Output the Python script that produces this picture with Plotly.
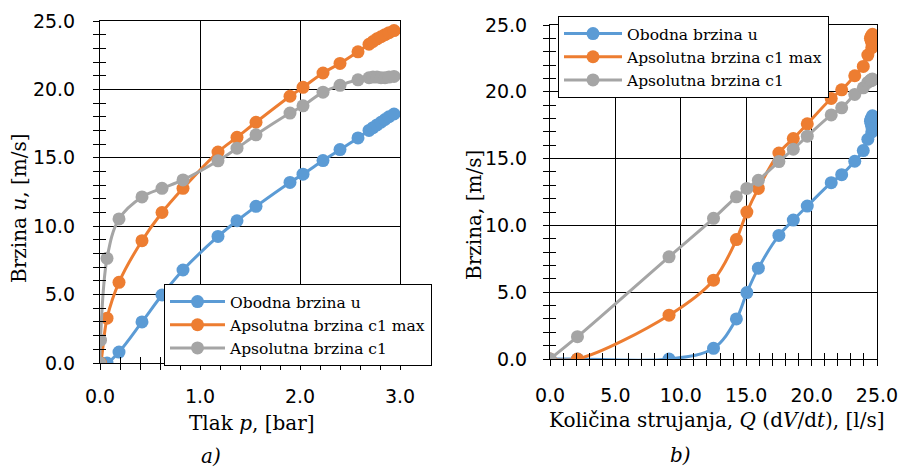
import plotly.graph_objects as go

# ---- data ----
p_bar = [0.0, 0.005, 0.07, 0.19, 0.42, 0.62, 0.83, 1.18, 1.37, 1.56, 1.90, 2.03, 2.23, 2.40, 2.58,
         2.69, 2.73, 2.77, 2.81, 2.85, 2.89, 2.94]
q_ls = [0.0, 2.1, 9.1, 12.5, 14.25, 15.05, 15.93, 17.5, 18.6, 19.67, 21.5, 22.3, 23.3, 23.95, 24.3,
        24.6, 24.65, 24.6, 24.55, 24.5, 24.55, 24.65]
u_obodna = [0, 0, 0, 0.8, 3.0, 4.97, 6.8, 9.25, 10.4, 11.45, 13.2, 13.8, 14.8, 15.6, 16.45,
            17.0, 17.2, 17.4, 17.6, 17.8, 18.0, 18.2]
c1_max = [0, 0, 3.28, 5.9, 8.94, 11.0, 12.77, 15.42, 16.5, 17.6, 19.5, 20.15, 21.2, 21.9, 22.75,
          23.3, 23.5, 23.7, 23.85, 24.0, 24.15, 24.3]
c1 = [0, 1.67, 7.65, 10.53, 12.14, 12.77, 13.38, 14.78, 15.7, 16.68, 18.27, 18.8, 19.8, 20.3, 20.7,
      20.85, 20.9, 20.9, 20.85, 20.85, 20.9, 20.95]

series_names = ["Obodna brzina u", "Apsolutna brzina c1 max", "Apsolutna brzina c1"]
series_vals = [u_obodna, c1_max, c1]
colors = ["#5B9BD5", "#ED7D31", "#A5A5A5"]

W, H = 901, 468
TICK_FONT = dict(family="DejaVu Sans", size=19, color="black")
TITLE_FONT = dict(family="DejaVu Serif", size=20, color="black")
LEG_FONT = dict(family="DejaVu Serif", size=15.5, color="black")

fig = go.Figure()

for name, vals, col in zip(series_names, series_vals, colors):
    fig.add_trace(go.Scatter(x=p_bar, y=vals, name=name, mode="lines+markers",
                             line=dict(color=col, width=3, shape="spline"),
                             marker=dict(color=col, size=13),
                             xaxis="x", yaxis="y", legend="legend"))
for name, vals, col in zip(series_names, series_vals, colors):
    fig.add_trace(go.Scatter(x=q_ls, y=vals, name=name, mode="lines+markers",
                             line=dict(color=col, width=3, shape="spline"),
                             marker=dict(color=col, size=13),
                             xaxis="x2", yaxis="y2", legend="legend2"))
# empty traces so the overlay axes (inner half of the crossing ticks + frame) get drawn
fig.add_trace(go.Scatter(x=[], y=[], xaxis="x3", yaxis="y3", showlegend=False, hoverinfo="skip"))
fig.add_trace(go.Scatter(x=[], y=[], xaxis="x4", yaxis="y4", showlegend=False, hoverinfo="skip"))

xd1 = [100 / W, 400 / W]
yd1 = [1 - 363 / H, 1 - 21 / H]
xd2 = [550 / W, 877 / W]
yd2 = [1 - 359 / H, 1 - 25 / H]


def main_axis(rng, dtick, mdtick, domain, anchor, standoff):
    return dict(range=rng, domain=domain, anchor=anchor, dtick=dtick, tick0=0,
                tickformat=".1f", showgrid=True, gridcolor="black", gridwidth=1,
                zeroline=False, showline=True, linecolor="black", linewidth=1,
                ticks="outside", ticklen=6, tickcolor="black", tickwidth=1,
                minor=dict(ticks="outside", dtick=mdtick, tick0=0, ticklen=6,
                           tickcolor="black", tickwidth=1, showgrid=False),
                ticklabelstandoff=standoff, automargin=False,
                tickfont=TICK_FONT, fixedrange=True)


def overlay_axis(rng, mdtick, domain, over, anchor, side):
    return dict(range=rng, domain=domain, overlaying=over, anchor=anchor, side=side,
                dtick=mdtick, tick0=0, showticklabels=False, showgrid=False,
                zeroline=False, showline=True, linecolor="black", linewidth=1, mirror=True,
                automargin=False,
                ticks="inside", ticklen=6, tickcolor="black", tickwidth=1, fixedrange=True)


fig.update_layout(
    width=W, height=H, margin=dict(l=0, r=0, t=0, b=0, autoexpand=False),
    paper_bgcolor="white", plot_bgcolor="white",
    xaxis=main_axis([0, 3], 1, 0.2, xd1, "y", 10),
    yaxis=main_axis([0, 25], 5, 1, yd1, "x", 14),
    xaxis2=main_axis([0, 25], 5, 1, xd2, "y2", 13),
    yaxis2=main_axis([0, 25], 5, 1, yd2, "x2", 12),
    xaxis3=overlay_axis([0, 3], 0.2, xd1, "x", "y3", "bottom"),
    yaxis3=overlay_axis([0, 25], 1, yd1, "y", "x3", "left"),
    xaxis4=overlay_axis([0, 25], 1, xd2, "x2", "y4", "bottom"),
    yaxis4=overlay_axis([0, 25], 1, yd2, "y2", "x4", "left"),
    legend=dict(x=164 / W, y=1 - 284 / H, xanchor="left", yanchor="top",
                bgcolor="white", bordercolor="black", borderwidth=1,
                font=LEG_FONT, itemwidth=55, tracegroupgap=0),
    legend2=dict(x=558 / W, y=1 - 16 / H, xanchor="left", yanchor="top",
                 bgcolor="white", bordercolor="black", borderwidth=1,
                 font=LEG_FONT, itemwidth=58, tracegroupgap=0),
    showlegend=True,
)

annots = [
    dict(text="Brzina <i>u</i>, [m/s]", x=19 / W, y=1 - 208 / H, textangle=-90, font=TITLE_FONT),
    dict(text="Brzina, [m/s]", x=474 / W, y=1 - 215 / H, textangle=-90, font=TITLE_FONT),
    dict(text="Tlak <i>p</i>, [bar]", x=251.5 / W, y=1 - 423 / H, font=TITLE_FONT),
    dict(text="Količina strujanja, <i>Q</i> (d<i>V</i>/d<i>t</i>), [l/s]", x=717 / W, y=1 - 420 / H,
         font=TITLE_FONT),
    dict(text="<i>a)</i>", x=211 / W, y=1 - 456 / H, font=dict(family="DejaVu Serif", size=20, color="black")),
    dict(text="<i>b)</i>", x=680 / W, y=1 - 455 / H, font=dict(family="DejaVu Serif", size=20, color="black")),
]
for a in annots:
    fig.add_annotation(xref="paper", yref="paper", showarrow=False, xanchor="center",
                       yanchor="middle", **a)

fig.write_html("out.html")
